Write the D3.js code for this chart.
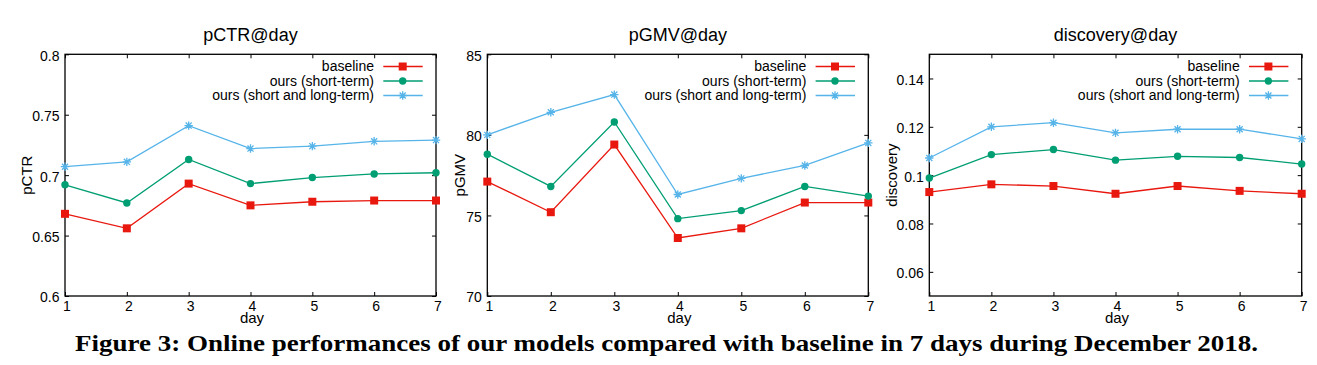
<!DOCTYPE html>
<html>
<head>
<meta charset="utf-8">
<script src="https://cdn.jsdelivr.net/npm/d3@7"></script>
<style>
  html, body { margin: 0; padding: 0; background: #fff; }
  svg { display: block; }
</style>
</head>
<body>
<svg id="chart" width="1317" height="365"></svg>
<script>
// ---------- data ----------
const days = [1, 2, 3, 4, 5, 6, 7];
const seriesNames = ["baseline", "ours (short-term)", "ours (short and long-term)"];

const pctrBaseline = [0.668, 0.656, 0.693, 0.675, 0.678, 0.679, 0.679];
const pctrShort    = [0.692, 0.677, 0.713, 0.693, 0.698, 0.701, 0.702];
const pctrLong     = [0.707, 0.711, 0.741, 0.722, 0.724, 0.728, 0.729];

const pgmvBaseline = [77.1, 75.2, 79.4, 73.6, 74.2, 75.8, 75.8];
const pgmvShort    = [78.8, 76.8, 80.8, 74.8, 75.3, 76.8, 76.2];
const pgmvLong     = [80.0, 81.4, 82.5, 76.3, 77.3, 78.1, 79.5];

const discBaseline = [0.0930, 0.0962, 0.0955, 0.0923, 0.0955, 0.0935, 0.0923];
const discShort    = [0.0988, 0.1085, 0.1106, 0.1062, 0.1078, 0.1073, 0.1046];
const discLong     = [0.1071, 0.1200, 0.1217, 0.1175, 0.1190, 0.1190, 0.1150];

const pctrTicks = [0.6, 0.65, 0.7, 0.75, 0.8];
const pctrTickLabels = ["0.6", "0.65", "0.7", "0.75", "0.8"];
const pgmvTicks = [70, 75, 80, 85];
const pgmvTickLabels = ["70", "75", "80", "85"];
const discTicks = [0.06, 0.08, 0.1, 0.12, 0.14];
const discTickLabels = ["0.06", "0.08", "0.1", "0.12", "0.14"];

const titles = ["pCTR@day", "pGMV@day", "discovery@day"];
const yLabels = ["pCTR", "pGMV", "discovery"];
const xLabel = "day";
const caption = "Figure 3: Online performances of our models compared with baseline in 7 days during December 2018.";

// ---------- layout / style ----------
const colors = ["#e8180f", "#009e73", "#56b4e9"];
const markers = ["square", "circle", "asterisk"];
const panels = [
  { x0: 65,    x1: 436,    domain: [0.6, 0.8],   ticks: pctrTicks, tickLabels: pctrTickLabels, series: [pctrBaseline, pctrShort, pctrLong], ylabX: 27 },
  { x0: 487.3, x1: 868.3,  domain: [70, 85],     ticks: pgmvTicks, tickLabels: pgmvTickLabels, series: [pgmvBaseline, pgmvShort, pgmvLong], ylabX: 460 },
  { x0: 929.3, x1: 1301.7, domain: [0.05, 0.15], ticks: discTicks, tickLabels: discTickLabels, series: [discBaseline, discShort, discLong], ylabX: 892 }
];
const yTop = 54.3, yBot = 296;
const font = "'Liberation Sans', Arial, sans-serif";
const tickLen = 4;

const svg = d3.select("#chart");

function drawMarker(g, type, x, y, color) {
  if (type === "square") {
    g.append("rect").attr("x", x - 4).attr("y", y - 4).attr("width", 8).attr("height", 8).attr("fill", color);
  } else if (type === "circle") {
    g.append("circle").attr("cx", x).attr("cy", y).attr("r", 3.7).attr("fill", color);
  } else {
    const r = 4.2, d = r * 0.72;
    const p = `M${x - r},${y}L${x + r},${y}M${x},${y - r}L${x},${y + r}M${x - d},${y - d}L${x + d},${y + d}M${x - d},${y + d}L${x + d},${y - d}`;
    g.append("path").attr("d", p).attr("stroke", color).attr("stroke-width", 1.3).attr("fill", "none");
  }
}

panels.forEach((P, i) => {
  const x = d3.scaleLinear().domain([1, 7]).range([P.x0, P.x1]);
  const y = d3.scaleLinear().domain(P.domain).range([yBot, yTop]);
  const g = svg.append("g");

  // ticks (inward, mirrored) via d3 axes
  const axL = d3.axisLeft(y).tickValues(P.ticks).tickSizeInner(-tickLen).tickSizeOuter(0).tickFormat((d, k) => P.tickLabels[k]).tickPadding(5.5);
  const axR = d3.axisRight(y).tickValues(P.ticks).tickSizeInner(-tickLen).tickSizeOuter(0).tickFormat("");
  const axB = d3.axisBottom(x).tickValues(days).tickSizeInner(-tickLen).tickSizeOuter(0).tickFormat(d3.format("d")).tickPadding(5);
  const axT = d3.axisTop(x).tickValues(days).tickSizeInner(-tickLen).tickSizeOuter(0).tickFormat("");

  const gl = g.append("g").attr("transform", `translate(${P.x0},0)`).call(axL);
  const gr = g.append("g").attr("transform", `translate(${P.x1},0)`).call(axR);
  const gb = g.append("g").attr("transform", `translate(0,${yBot})`).call(axB);
  const gt = g.append("g").attr("transform", `translate(0,${yTop})`).call(axT);
  [gl, gr, gb, gt].forEach(a => {
    a.select(".domain").remove();
    a.selectAll("line").attr("stroke", "#000").attr("stroke-width", 1);
    a.selectAll("text").attr("font-family", font).attr("font-size", 14).attr("fill", "#000");
  });
  gl.selectAll("text").attr("dy", "0.42em");
  gb.selectAll("text").attr("dx", 1.5);

  // border
  g.append("rect").attr("x", P.x0).attr("y", yTop).attr("width", P.x1 - P.x0).attr("height", yBot - yTop)
    .attr("fill", "none").attr("stroke", "#000").attr("stroke-width", 1.3);

  // title
  g.append("text").attr("x", (P.x0 + P.x1) / 2).attr("y", 40.5).attr("text-anchor", "middle")
    .attr("font-family", font).attr("font-size", 18).text(titles[i]);
  // x label
  g.append("text").attr("x", (P.x0 + P.x1) / 2 + 1.5).attr("y", 322.7).attr("text-anchor", "middle")
    .attr("font-family", font).attr("font-size", 15).text(xLabel);
  // y label
  g.append("text").attr("transform", `translate(${P.ylabX},${(yTop + yBot) / 2}) rotate(-90)`)
    .attr("text-anchor", "middle").attr("dy", "0.35em")
    .attr("font-family", font).attr("font-size", 15).text(yLabels[i]);

  // series
  const line = d3.line().x((d, k) => x(days[k])).y(d => y(d));
  P.series.forEach((vals, s) => {
    g.append("path").attr("d", line(vals)).attr("fill", "none").attr("stroke", colors[s]).attr("stroke-width", 1.3);
    vals.forEach((v, k) => drawMarker(g, markers[s], x(days[k]), y(v), colors[s]));
  });

  // legend
  const legRight = P.x1 - 62;
  const sx0 = P.x1 - 52.7, sx1 = P.x1 - 13.3, mx = P.x1 - 33.3;
  const rows = [66.5, 81, 95.5];
  seriesNames.forEach((name, s) => {
    g.append("text").attr("x", legRight).attr("y", rows[s]).attr("dy", "0.35em").attr("text-anchor", "end")
      .attr("font-family", font).attr("font-size", 14).text(name);
    g.append("line").attr("x1", sx0).attr("x2", sx1).attr("y1", rows[s]).attr("y2", rows[s])
      .attr("stroke", colors[s]).attr("stroke-width", 1.3);
    drawMarker(g, markers[s], mx, rows[s], colors[s]);
  });
});

// caption
const cap = svg.append("text").attr("x", 75).attr("y", 351)
  .attr("font-family", "'Liberation Serif', 'Times New Roman', serif").attr("font-weight", "bold")
  .attr("font-size", 23).text(caption);
cap.attr("textLength", 1183).attr("lengthAdjust", "spacingAndGlyphs");
</script>
</body>
</html>
